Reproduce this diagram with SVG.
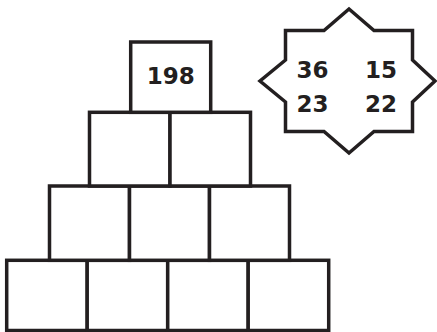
<svg xmlns="http://www.w3.org/2000/svg" width="437" height="332" viewBox="0 0 437 332">
<style>
.b{fill:#fff;stroke:#231f20;stroke-width:3.5;stroke-linejoin:miter}
.t{font-family:"DejaVu Sans",sans-serif;font-weight:bold;font-size:23px;fill:#231f20;text-anchor:middle}
</style>
<rect width="437" height="332" fill="#fff"/>
<g id="row4">
<rect id="r4c1" class="b" x="6.7" y="260.3" width="80.5" height="70.2"/>
<rect id="r4c2" class="b" x="87.2" y="260.3" width="80.5" height="70.2"/>
<rect id="r4c3" class="b" x="167.7" y="260.3" width="80.5" height="70.2"/>
<rect id="r4c4" class="b" x="248.2" y="260.3" width="80.5" height="70.2"/>
</g>
<g id="row3">
<rect id="r3c1" class="b" x="49.5" y="186" width="80" height="74.3"/>
<rect id="r3c2" class="b" x="129.5" y="186" width="80" height="74.3"/>
<rect id="r3c3" class="b" x="209.5" y="186" width="80" height="74.3"/>
</g>
<g id="row2">
<rect id="r2c1" class="b" x="89.5" y="112.3" width="80.5" height="73.7"/>
<rect id="r2c2" class="b" x="170" y="112.3" width="80.5" height="73.7"/>
</g>
<g id="top">
<rect class="b" x="130.7" y="42" width="80" height="70.3"/>
<text class="t" x="170.7" y="84">198</text>
</g>
<g id="star">
<polygon class="b" points="349,9 374,30.5 412.5,30.5 412.5,60 435,81 412.5,102 412.5,131.5 374,131.5 349,153 324,131.5 285.5,131.5 285.5,102 260,81 285.5,60 285.5,30.5 324,30.5"/>
<text class="t" x="312.5" y="78">36</text>
<text class="t" x="381" y="78">15</text>
<text class="t" x="312.5" y="112">23</text>
<text class="t" x="381" y="112">22</text>
</g>
</svg>
